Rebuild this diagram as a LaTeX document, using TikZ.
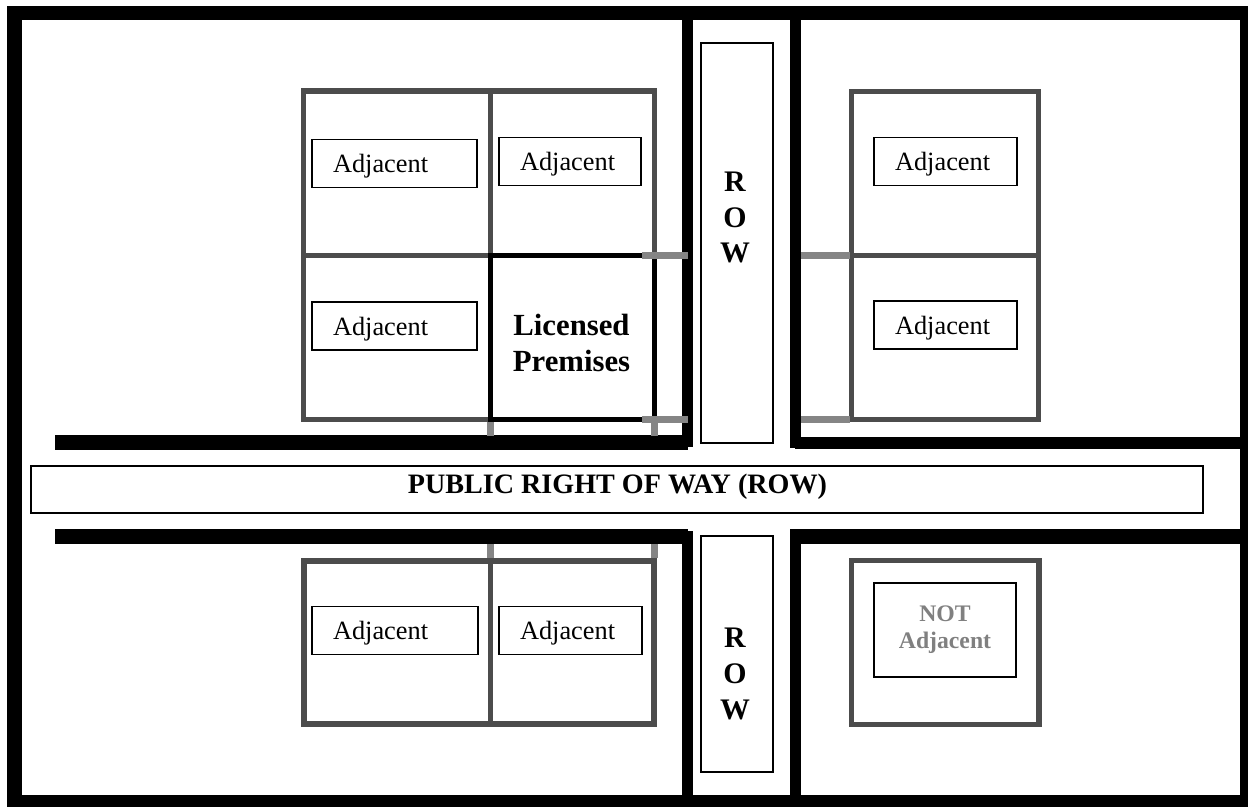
\documentclass[tikz,border=0pt]{standalone}
\usepackage{fontspec}
\setmainfont{Liberation Serif}
\usepackage{tikz}
\usetikzlibrary{positioning}

\begin{document}
\begin{tikzpicture}[x=0.02cm, y=-0.02cm,
    street/.style={line width=8.5pt, black},
    alley/.style={line width=6.3pt, black},
    lot/.style={draw=black!70, line width=3pt},
    stub/.style={draw=black!48, line width=4.2pt},
    tag/.style={draw, line width=1.1pt, align=left, inner xsep=0.42cm,
        minimum height=0.96cm, text depth=0pt, font=\fontsize{15}{18}\selectfont},
    rowbox/.style={draw, line width=1.1pt},
    rowtxt/.style={align=center, font=\fontsize{17}{20.4}\selectfont\bfseries}]
    \useasboundingbox (0,0) rectangle (1248,806);

    % outer frame
    \draw[line width=8.5pt] (14.5,13) rectangle (1247.5,802.5);

    % streets
    \draw[street] (55,442.5) -- (688,442.5);
    \draw[alley] (687.5,13) -- (687.5,447);
    \draw[alley] (795.5,13) -- (795.5,448);
    \draw[alley] (795,443) -- (1248,443);
    \draw[street] (55,536.5) -- (688,536.5);
    \draw[alley] (687.5,531) -- (687.5,806);
    \draw[street] (790,536.5) -- (1248,536.5);
    \draw[alley] (795.5,531) -- (795.5,806);

    % lots
    \draw[lot] (303.5,91) rectangle (654.5,419.5);
    \draw[lot] (490.5,91) -- (490.5,419.5);
    \draw[lot] (303.5,255.5) -- (654.5,255.5);
    \draw[lot] (851.5,91.5) rectangle (1038.5,419.5);
    \draw[lot] (851.5,255.5) -- (1038.5,255.5);
    \draw[lot] (304,561) rectangle (654,724);
    \draw[lot] (490.5,561) -- (490.5,724);
    \draw[lot] (851.5,560.5) rectangle (1039,724.5);

    % licensed premises
    \draw[line width=2.8pt] (490.5,255.5) rectangle (654.5,419.5);

    % stubs to the street
    \draw[stub] (642,255.5) -- (688,255.5);
    \draw[stub] (642,419.5) -- (688,419.5);
    \draw[stub] (490.5,422) -- (490.5,436);
    \draw[stub] (654.5,422) -- (654.5,436);
    \draw[stub] (801,255.5) -- (850,255.5);
    \draw[stub] (801,419.5) -- (850,419.5);
    \draw[stub] (490.5,544) -- (490.5,558);
    \draw[stub] (654.5,544) -- (654.5,558);

    \node[font=\fontsize{17.5}{20.4}\selectfont\bfseries, align=center] (lic) at (571.5,343) {Licensed\\Premises};

    % adjacent tags
    \node[tag, text width=2.46cm] (adjA) at (394.5,163.5) {Adjacent};
    \node[tag, text width=2.0cm] (adjB) at (570,161.5) {Adjacent};
    \node[tag, text width=2.02cm] (adjC) at (945.5,161.5) {Adjacent};
    \node[tag, text width=2.46cm] (adjD) at (394.5,326) {Adjacent};
    \node[tag, text width=2.02cm] (adjE) at (945.5,325) {Adjacent};
    \node[tag, text width=2.48cm] (adjF) at (395,630.5) {Adjacent};
    \node[tag, text width=2.02cm] (adjG) at (570.5,630.5) {Adjacent};

    \node[draw, line width=1.1pt, minimum width=2.84cm, minimum height=1.88cm, align=center,
        text=black!50, font=\fontsize{13.5}{15.3}\selectfont\bfseries] (notadj) at (945,630) {NOT\\Adjacent};

    % right of way
    \node[rowbox, minimum width=1.44cm, minimum height=8cm] (rowN) at (737,243) {};
    \node[rowtxt] (rowNtxt) at (735,217.5) {R\\O\\W};
    \node[rowbox, minimum width=1.44cm, minimum height=4.72cm] (rowS) at (737,654) {};
    \node[rowtxt] (rowStxt) at (735,674) {R\\O\\W};
    \node[rowbox, minimum width=23.44cm, minimum height=0.94cm] (rowEW) at (617,489.5) {};
    \node[font=\fontsize{16}{19}\selectfont\bfseries, anchor=base] (rowEWtxt) at (617.5,493) {PUBLIC RIGHT OF WAY (ROW)};
\end{tikzpicture}
\end{document}
